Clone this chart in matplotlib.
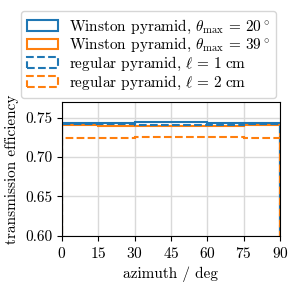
import matplotlib
matplotlib.use("Agg")
import matplotlib.pyplot as plt
import numpy as np

plt.rcParams['font.family'] = 'serif'
plt.rcParams['font.serif'] = ['cmr10']
plt.rcParams['mathtext.fontset'] = 'cm'
plt.rcParams['axes.formatter.use_mathtext'] = True
plt.rcParams['font.size'] = 11

edges = [0, 15, 30, 45, 60, 75, 90]
winston_20 = [0.7428, 0.7435, 0.7440, 0.7440, 0.7435, 0.7430]
winston_39 = [0.7406, 0.7398, 0.7392, 0.7392, 0.7398, 0.7406]
regular_1cm = [0.7420, 0.7420, 0.7405, 0.7405, 0.7412, 0.7420]
regular_2cm = [0.7237, 0.7237, 0.7250, 0.7250, 0.7250, 0.7237]

labels = [r'Winston pyramid, $\theta_\mathrm{max}\,=\,20^\circ$',
          r'Winston pyramid, $\theta_\mathrm{max}\,=\,39^\circ$',
          r'regular pyramid, $\ell\,=\,1\;\mathrm{cm}$',
          r'regular pyramid, $\ell\,=\,2\;\mathrm{cm}$']

fig = plt.figure(figsize=(2.96, 2.88), dpi=100)
ax = fig.add_axes([0.209, 0.181, 0.737, 0.465])

centers = np.array(edges[:-1]) + 7.5
series = [(winston_20, 'tab:blue', '-'), (winston_39, 'tab:orange', '-'),
          (regular_1cm, 'tab:blue', '--'), (regular_2cm, 'tab:orange', '--')]
for (vals, c, ls), lab in zip(series, labels):
    ax.hist(centers, bins=edges, weights=vals, histtype='step', color=c,
            linestyle=ls, linewidth=1.5, label=lab)

ax.set_xlim(0, 90)
ax.set_ylim(0.60, 0.77)
ax.set_xticks(edges)
ax.set_yticks([0.60, 0.65, 0.70, 0.75])
ax.set_yticklabels(['0.60', '0.65', '0.70', '0.75'])
ax.grid(True, color='#d9d9d9', linewidth=1)
ax.set_axisbelow(True)
ax.set_xlabel('azimuth / deg')
ax.set_ylabel('transmission efficiency')
ax.legend(loc='lower right', bbox_to_anchor=(1.0, 1.0), fontsize=11,
          borderaxespad=0.25, labelspacing=0.05, handletextpad=0.75)

fig.savefig('out.png', dpi=100)
